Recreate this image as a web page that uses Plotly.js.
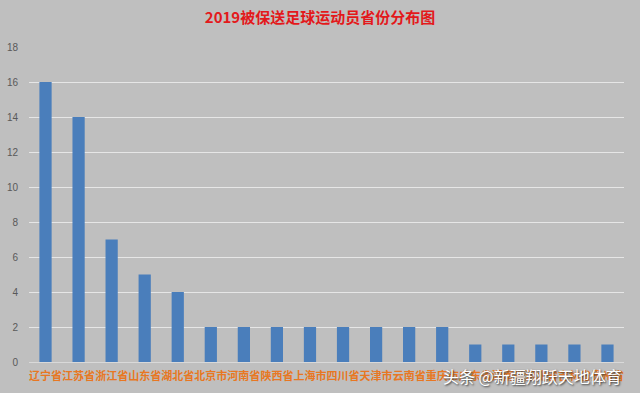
<!DOCTYPE html>
<html>
<head>
<meta charset="utf-8">
<script src="https://cdn.plot.ly/plotly-3.0.1.min.js"></script>
<style>html,body{margin:0;padding:0;background:#bfbfbf;}#chart{width:640px;height:393px;}</style>
</head>
<body>
<div id="chart"></div>
<script>
const provinces = ["辽宁省","江苏省","浙江省","山东省","湖北省","北京市","河南省","陕西省","上海市","四川省","天津市","云南省","重庆市","广东省","湖南省","河北省","吉林省","贵州省"];
const players = [16,14,7,5,4,2,2,2,2,2,2,2,2,1,1,1,1,1];
const yTicks = [0,2,4,6,8,10,12,14,16,18];
const titleText = "2019被保送足球运动员省份分布图";
const watermark = "头条 @新疆翔跃天地体育";

const trace = {
  type: "bar",
  x: provinces,
  y: players,
  marker: {color: "#4a7ebb"},
  hoverinfo: "x+y"
};

const layout = {
  width: 640, height: 393,
  paper_bgcolor: "#bfbfbf",
  plot_bgcolor: "#bfbfbf",
  margin: {l: 29, r: 16, t: 47, b: 31},
  bargap: 0.63,
  showlegend: false,
  title: {
    text: titleText,
    x: 0.5, xanchor: "center",
    y: 0.955, yanchor: "middle",
    font: {family: "Noto Sans CJK SC, sans-serif", size: 15, color: "#e3191b", weight: "bold"}
  },
  xaxis: {
    type: "category",
    tickangle: 0,
    tickfont: {family: "Noto Sans CJK SC, sans-serif", size: 11, color: "#e87722", weight: "bold"},
    ticks: "outside", ticklen: 4, tickcolor: "rgba(0,0,0,0)",
    showgrid: false, zeroline: false,
    showline: true, linecolor: "#d9d9d9", linewidth: 1,
    fixedrange: true
  },
  yaxis: {
    range: [0, 18],
    tickvals: yTicks,
    ticktext: yTicks.map(String),
    tickfont: {family: "Liberation Sans, Arial, sans-serif", size: 10, color: "#595959"},
    ticks: "outside", ticklen: 8, tickcolor: "rgba(0,0,0,0)",
    gridcolor: "#e6e6e6", gridwidth: 1,
    zeroline: false, showline: false,
    fixedrange: true
  },
  annotations: [{
    text: watermark,
    xref: "paper", yref: "paper",
    x: 1.0, y: -0.045, xanchor: "right", yanchor: "middle",
    showarrow: false,
    font: {family: "Noto Sans CJK SC, sans-serif", size: 16, color: "#ffffff", shadow: "1px 1px 2px #333333"}
  }]
};

Plotly.newPlot("chart", [trace], layout, {displayModeBar: false, staticPlot: true});
</script>
</body>
</html>
